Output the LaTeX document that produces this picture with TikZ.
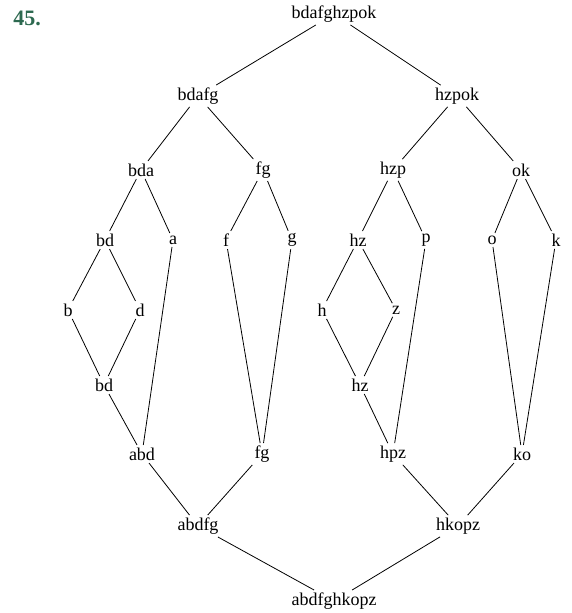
\documentclass[tikz,border=0pt]{standalone}
\usepackage{fontspec}
\setmainfont{Liberation Serif}
\definecolor{numgreen}{RGB}{45,105,80}

\begin{document}
\begin{tikzpicture}[x=1pt,y=-1pt,inner sep=2.5pt,
    set/.style={font=\fontsize{18}{18}\selectfont}]
  \useasboundingbox (0,0) rectangle (572,613);
  \node[font=\fontsize{22}{22}\selectfont\bfseries,text=numgreen] (num) at (27,18) {45.};
  % top half
  \node[set] (top) at (334,14) {bdafghzpok};
  \node[set] (bdafg) at (198,96) {bdafg};
  \node[set] (hzpok) at (457,96) {hzpok};
  \node[set] (bda) at (141,170) {bda};
  \node[set] (fg) at (263,170) {fg};
  \node[set] (hzp) at (393,170) {hzp};
  \node[set] (ok) at (521,170) {ok};
  \node[set] (bd) at (105,240) {bd};
  \node[set] (a) at (173,240) {a};
  \node[set] (f) at (226,240) {f};
  \node[set] (g) at (292,240) {g};
  \node[set] (hz) at (358,240) {hz};
  \node[set] (p) at (426,240) {p};
  \node[set] (o) at (492,240) {o};
  \node[set] (k) at (556,240) {k};
  \node[set] (b) at (68,310) {b};
  \node[set] (d) at (140,310) {d};
  \node[set] (h) at (322,310) {h};
  \node[set] (z) at (396,310) {z};
  % bottom half
  \node[set] (bdlow) at (104,385) {bd};
  \node[set] (hzlow) at (360,385) {hz};
  \node[set] (abd) at (142,454) {abd};
  \node[set] (fglow) at (262,454) {fg};
  \node[set] (hpz) at (393,454) {hpz};
  \node[set] (ko) at (522,454) {ko};
  \node[set] (abdfg) at (198,526) {abdfg};
  \node[set] (hkopz) at (458,526) {hkopz};
  \node[set] (bot) at (334,601) {abdfghkopz};
  \foreach \u/\v in {top/bdafg,top/hzpok,bdafg/bda,bdafg/fg,hzpok/hzp,hzpok/ok,
      bda/bd,bda/a,fg/f,fg/g,hzp/hz,hzp/p,ok/o,ok/k,bd/b,bd/d,hz/h,hz/z,
      b/bdlow,d/bdlow,h/hzlow,z/hzlow,bdlow/abd,a/abd,f/fglow,g/fglow,
      hzlow/hpz,p/hpz,o/ko,k/ko,abd/abdfg,fglow/abdfg,hpz/hkopz,ko/hkopz,
      abdfg/bot,hkopz/bot}
    \draw[line width=0.8pt] (\u) -- (\v);
\end{tikzpicture}
\end{document}
